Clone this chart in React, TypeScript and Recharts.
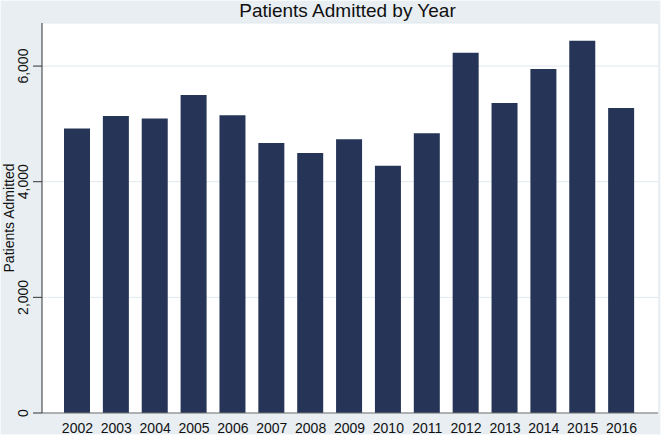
import React from 'react';
import { BarChart, Bar, XAxis, YAxis, CartesianGrid } from 'recharts';

const years = ['2002', '2003', '2004', '2005', '2006', '2007', '2008', '2009', '2010', '2011', '2012', '2013', '2014', '2015', '2016'];
const admitted = [4920, 5135, 5095, 5500, 5150, 4670, 4495, 4735, 4278, 4838, 6230, 5360, 5950, 6438, 5275];
const yTicks = [0, 2000, 4000, 6000];
const yMax = 6745;

const data = years.map((year, i) => ({ year, admitted: admitted[i] }));

const FONT = '"Liberation Sans", Arial, Helvetica, sans-serif';
const BG = '#e8eef1';
const BAR = '#263457';

const fmt = (v: number) => v.toLocaleString('en-US');

const YTick = (props: any) => {
  const { x, y, payload } = props;
  const tx = x - 3;
  return (
    <text
      x={tx}
      y={y}
      textAnchor="middle"
      transform={`rotate(-90, ${tx}, ${y})`}
      fontFamily={FONT}
      fontSize={14}
      fill="#111"
    >
      {fmt(payload.value)}
    </text>
  );
};

const XTick = (props: any) => {
  const { x, y, payload } = props;
  return (
    <text x={x} y={y + 19.5} textAnchor="middle" fontFamily={FONT} fontSize={14} fill="#111">
      {payload.value}
    </text>
  );
};

export default function App() {
  return (
    <div
      style={{
        position: 'fixed',
        left: 0,
        top: 0,
        width: 661,
        height: 435,
        background: BG,
        boxSizing: 'border-box',
        border: '1px solid #f6f9fa',
      }}
    >
      <div style={{ position: 'absolute', left: -1, top: -1 }}>
        <BarChart
          width={661}
          height={435}
          data={data}
          margin={{ top: 23, right: 3, left: 0, bottom: 0 }}
          barSize={26}
        >
          <CartesianGrid
            vertical={false}
            horizontal={true}
            fill="#ffffff"
            stroke="#dfe9ee"
            strokeWidth={1}
          />
          <XAxis
            dataKey="year"
            height={22}
            tickLine={false}
            tickSize={0}
            tickMargin={0}
            axisLine={{ stroke: '#707070', strokeWidth: 1 }}
            padding={{ left: 16, right: 17 }}
            tick={<XTick />}
            interval={0}
          />
          <YAxis
            width={42}
            domain={[0, yMax]}
            ticks={yTicks}
            tickSize={9}
            tickMargin={2}
            tickLine={{ stroke: '#333', strokeWidth: 1 }}
            axisLine={{ stroke: '#333', strokeWidth: 1 }}
            tick={<YTick />}
            allowDataOverflow
          />
          <Bar dataKey="admitted" fill={BAR} isAnimationActive={false} />
        </BarChart>
        <svg
          width={661}
          height={435}
          style={{ position: 'absolute', left: 0, top: 0, pointerEvents: 'none' }}
        >
          <text x={347.5} y={17} textAnchor="middle" fontFamily={FONT} fontSize={19} fill="#111">
            Patients Admitted by Year
          </text>
          <text
            x={14}
            y={218}
            textAnchor="middle"
            transform="rotate(-90, 14, 218)"
            fontFamily={FONT}
            fontSize={14}
            fill="#111"
          >
            Patients Admitted
          </text>
        </svg>
      </div>
    </div>
  );
}
